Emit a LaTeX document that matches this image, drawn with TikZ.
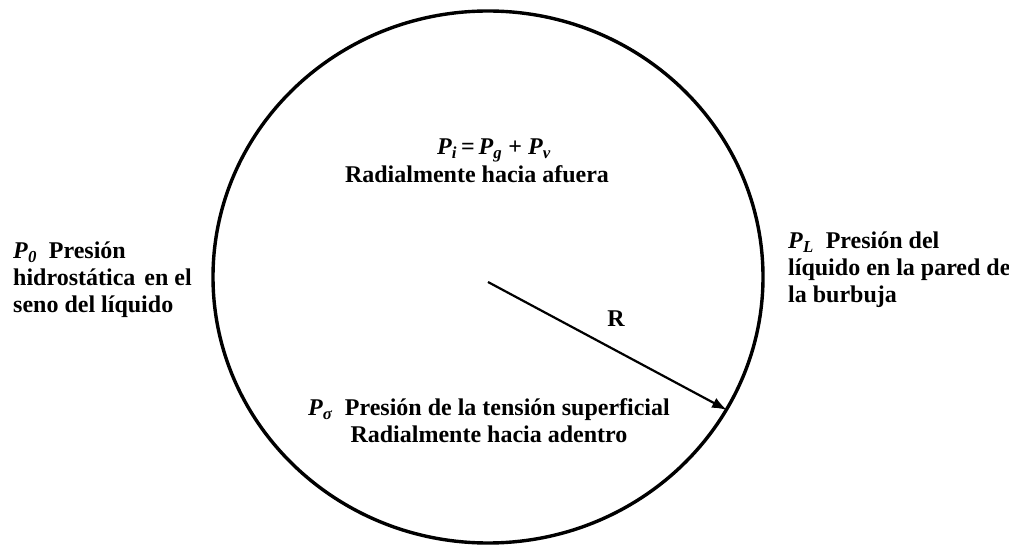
\documentclass[tikz,border=0pt]{standalone}
\usepackage{fontspec}
\setmainfont{Liberation Serif}
\usetikzlibrary{arrows.meta}

\newcommand{\pres}[1]{\textit{P}\textsubscript{\textit{#1}}}

\tikzset{
  label text/.style={font=\fontsize{24}{27}\selectfont\bfseries, inner sep=0pt},
}

\begin{document}
\begin{tikzpicture}[x=1pt,y=1pt]
		\useasboundingbox (0,0) rectangle (1009,546);
		% bubble wall
		\draw[line width=3.4pt] (488,269) ellipse (275 and 266);
		% radius
		\coordinate (centre) at (488,264);
		\coordinate (wall) at (727,136);
		\draw[line width=2.2pt, -{Latex[length=15pt,width=11pt]}] (centre) -- (wall);
		\node[label text] (radius) at (616,227) {R};
		% pressures
		\node[label text, anchor=base] (inner) at (494,391)
			{\pres{i}\,=\,\pres{g} + \pres{v}};
		\node[label text, anchor=base] (innerdir) at (477,363)
			{Radialmente hacia afuera};
		\node[label text, anchor=base, align=center] (surface) at (489,103)
			{\textit{P}\textsubscript{\textit{σ}}\ \ Presión de la tensión superficial\\ Radialmente hacia adentro};
		\node[label text, anchor=base west, align=left] (outer) at (13,233)
			{\pres{0}\ \ Presión\\ hidrostática\hspace{9pt}en el\\ seno del líquido};
		\node[label text, anchor=base west, align=left] (liquid) at (788,243)
			{\pres{L}\ \ Presión del\\ líquido en la pared de\\ la burbuja};
	\end{tikzpicture}
\end{document}
